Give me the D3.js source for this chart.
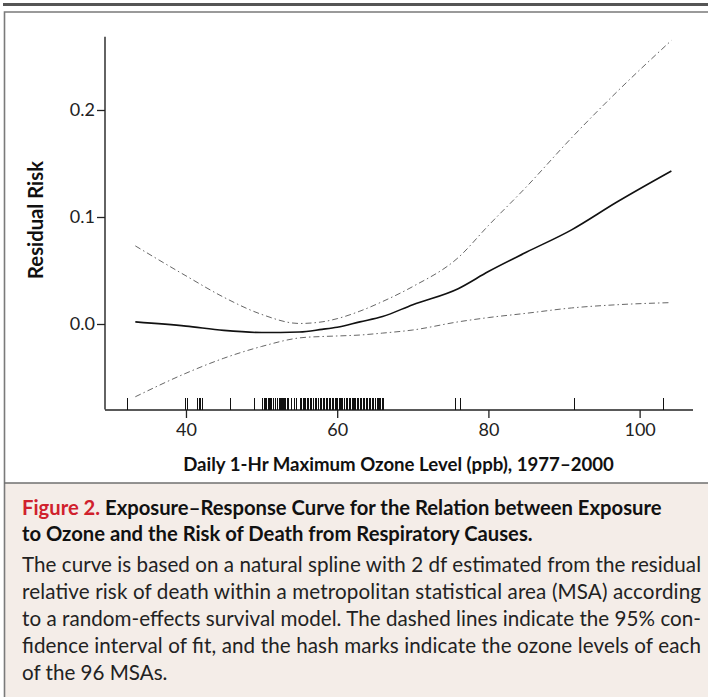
<!DOCTYPE html>
<html><head><meta charset="utf-8">
<script src="https://cdn.jsdelivr.net/npm/d3@7"></script>
<style>
html,body{margin:0;padding:0;background:#fff;}
svg{display:block;}
text{font-family:Lato,"Open Sans",sans-serif;}
</style></head>
<body>
<svg id="c" width="708" height="697"></svg>
<script>
// ---- data ----
const ozone = [33.3, 40, 45, 50, 55, 58, 60, 63, 66, 70, 76, 80, 85, 91, 97, 104.2];
const fit   = [0.002, -0.002, -0.006, -0.008, -0.0075, -0.005, -0.003, 0.002, 0.007, 0.018, 0.033, 0.049, 0.067, 0.088, 0.114, 0.143];
const upper = [0.073, 0.045, 0.025, 0.009, 0.0005, 0.002, 0.005, 0.012, 0.021, 0.035, 0.062, 0.092, 0.128, 0.174, 0.217, 0.265];
const lower = [-0.068, -0.046, -0.032, -0.021, -0.013, -0.0117, -0.0112, -0.0103, -0.0085, -0.0056, 0.002, 0.006, 0.010, 0.015, 0.018, 0.020];
const msaOzone = [32.2, 39.9, 40.1, 41.4, 41.5, 41.7, 41.9, 42.1, 45.8, 49.0,
  50.1, 50.3, 50.45, 50.6, 50.8, 50.95, 51.1, 51.3, 51.5, 51.75,
  52.0, 52.1, 52.25, 52.4, 52.55, 52.7, 52.85, 53.0, 53.15, 53.3, 53.5,
  53.9, 54.3, 54.6,
  55.1, 55.25, 55.45, 55.6, 55.8, 55.95, 56.15, 56.4,
  56.6, 56.8, 57.0, 57.25, 57.5,
  57.7, 57.9, 58.1, 58.3, 58.5, 58.7, 58.9, 59.1, 59.3,
  59.5, 59.65, 59.8, 60.0, 60.2, 60.35, 60.5, 60.7, 60.9, 61.1, 61.3,
  61.5, 61.7, 61.9, 62.05, 62.2, 62.4, 62.6, 62.8, 63.0,
  63.2, 63.4, 63.6, 63.8, 64.0, 64.2, 64.4, 64.6, 64.8, 65.0,
  65.2, 65.4, 65.55, 65.7, 65.9, 66.1,
  75.6, 76.3, 91.3, 103.1];
const xTicks = [40, 60, 80, 100];
const yTicks = [0.0, 0.1, 0.2];
const xTitle = "Daily 1-Hr Maximum Ozone Level (ppb), 1977\u20132000";
const yTitle = "Residual Risk";
const figLabel = "Figure 2.";
const titleLines = [" Exposure\u2013Response Curve for the Relation between Exposure",
                    "to Ozone and the Risk of Death from Respiratory Causes."];
const bodyLines = ["The curve is based on a natural spline with 2 df estimated from the residual",
  "relative risk of death within a metropolitan statistical area (MSA) according",
  "to a random-effects survival model. The dashed lines indicate the 95% con-",
  "fidence interval of fit, and the hash marks indicate the ozone levels of each",
  "of the 96 MSAs."];

// ---- layout ----
const svg = d3.select("#c");
const W = 708, H = 697;
const x = d3.scaleLinear().domain([29.29, 107.06]).range([105, 693]);
const y = d3.scaleLinear().domain([-0.08, 0.2685]).range([409.6, 36.7]);

// frame & caption background
svg.append("rect").attr("x", 4).attr("y", 483).attr("width", W).attr("height", H - 483).attr("fill", "#f4ede8");
svg.append("line").attr("x1", 3).attr("x2", W).attr("y1", 4.5).attr("y2", 4.5).attr("stroke", "#555").attr("stroke-width", 3);
svg.append("path").attr("d", `M${W},12 H4.5 V${H}`).attr("fill", "none").attr("stroke", "#7a7a7a").attr("stroke-width", 1.6);
svg.append("line").attr("x1", 4).attr("x2", W).attr("y1", 483).attr("y2", 483).attr("stroke", "#6f6f6f").attr("stroke-width", 1.6);

const g = svg.append("g");

// axes
const xAxis = d3.axisBottom(x).tickValues(xTicks).tickSize(8).tickPadding(5).tickSizeOuter(0).tickFormat(d3.format("d"));
const yAxis = d3.axisLeft(y).tickValues(yTicks).tickSize(8).tickPadding(2).tickSizeOuter(0).tickFormat(d3.format(".1f"));
const gx = g.append("g").attr("transform", "translate(0,410)").call(xAxis);
const gy = g.append("g").attr("transform", "translate(105,0)").call(yAxis);
[gx, gy].forEach(a => {
  a.attr("font-size", 18).attr("font-family", "Lato, sans-serif");
  a.select(".domain").attr("stroke", "#222").attr("stroke-width", 1.4);
  a.selectAll(".tick line").attr("stroke", "#222").attr("stroke-width", 1.3);
  a.selectAll(".tick text").attr("fill", "#222").attr("font-size", 18);
});
gx.select(".domain").attr("d", `M${x.range()[0]},0H${x.range()[1]}`);
gy.select(".domain").attr("d", `M0,${y.range()[1]}V${y.range()[0]}`);

// rug
g.append("g").selectAll("line").data(msaOzone).join("line")
  .attr("x1", d => Math.round(x(d)) + 0.5).attr("x2", d => Math.round(x(d)) + 0.5)
  .attr("y1", 398).attr("y2", 410)
  .attr("stroke", "#111").attr("stroke-width", 1);

// curves
const pts = (arr) => ozone.map((o, i) => [x(o), y(arr[i])]);
const line = d3.line().curve(d3.curveMonotoneX);
g.append("path").attr("d", line(pts(upper))).attr("fill", "none").attr("stroke", "#555").attr("stroke-width", 0.9).attr("stroke-dasharray", "6,3,1.5,3");
g.append("path").attr("d", line(pts(lower))).attr("fill", "none").attr("stroke", "#555").attr("stroke-width", 0.9).attr("stroke-dasharray", "6,3,1.5,3");
g.append("path").attr("d", line(pts(fit))).attr("fill", "none").attr("stroke", "#111").attr("stroke-width", 1.6);

// axis titles
function fitText(sel, target) {
  const w = sel.node().getComputedTextLength();
  const fs = parseFloat(sel.style("font-size"));
  sel.style("font-size", (fs * target / w) + "px");
}
const xt = g.append("text").attr("x", 398.5).attr("y", 471).attr("text-anchor", "middle")
  .style("font-size", "15px").style("font-weight", "bold").attr("fill", "#111").text(xTitle);
fitText(xt, 431);
const yt = g.append("text").attr("transform", "translate(43,220) rotate(-90)").attr("text-anchor", "middle")
  .style("font-size", "15px").style("font-weight", "bold").attr("fill", "#111").text(yTitle);
fitText(yt, 118);

// caption
const cap = svg.append("g");
const t1 = cap.append("text").attr("x", 22).attr("y", 515).style("font-size", "18px").style("font-weight", "bold").attr("fill", "#111");
t1.append("tspan").attr("fill", "#d0212d").text(figLabel);
t1.append("tspan").text(titleLines[0]);
fitText(t1, 640);
const tfs = t1.style("font-size");
cap.append("text").attr("x", 22).attr("y", 541).style("font-size", tfs).style("font-weight", "bold").attr("fill", "#111").text(titleLines[1]);

const probe = cap.append("text").style("font-size", "18px").text(bodyLines[0]);
const bw = probe.node().getComputedTextLength();
probe.remove();
const bfs = 18 * 676 / bw;
const bodyY = [572, 599, 626, 653, 680];
bodyLines.forEach((s, i) => {
  const t = cap.append("text").attr("x", 22).attr("y", bodyY[i]).style("font-size", bfs + "px").attr("fill", "#222").text(s);
  if (i < 4) t.attr("textLength", 679).attr("lengthAdjust", "spacing");
});
</script>
</body></html>
